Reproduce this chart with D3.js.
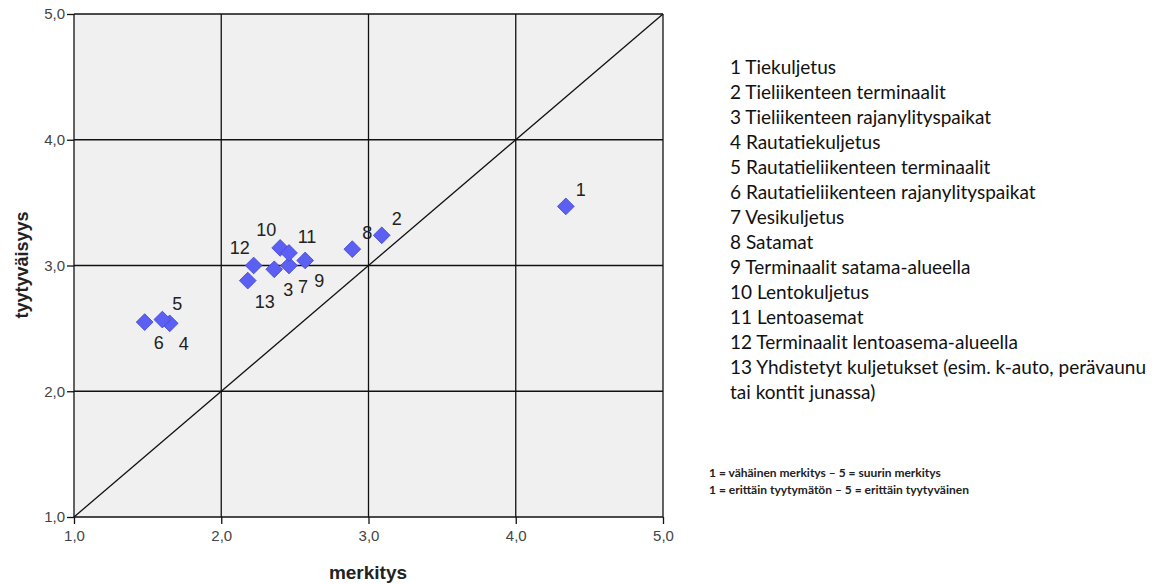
<!DOCTYPE html>
<html lang="fi">
<head>
<meta charset="UTF-8">
<title>merkitys / tyytyväisyys</title>
<script src="https://d3js.org/d3.v7.min.js"></script>
<style>
    body { margin: 0; background: #fff; }
    text { font-family: "Liberation Sans", Arial, sans-serif; }
</style>
</head>
<body>
<script>

// data
const ids = [1, 2, 3, 4, 5, 6, 7, 8, 9, 10, 11, 12, 13];
const merkitys = [4.34, 3.09, 2.36, 1.65, 1.60, 1.48, 2.46, 2.89, 2.57, 2.40, 2.46, 2.22, 2.18];
const tyytyvaisyys = [3.47, 3.24, 2.97, 2.54, 2.57, 2.55, 3.00, 3.13, 3.04, 3.14, 3.10, 3.00, 2.88];
const labelSide = ['ne', 'ne', 'se', 'se', 'ne', 'se', 'se', 'ne', 'se', 'nw', 'ne', 'nw', 'se'];
const tickValues = [1, 2, 3, 4, 5];
const legendLines = [
    '1 Tiekuljetus',
    '2 Tieliikenteen terminaalit',
    '3 Tieliikenteen rajanylityspaikat',
    '4 Rautatiekuljetus',
    '5 Rautatieliikenteen terminaalit',
    '6 Rautatieliikenteen rajanylityspaikat',
    '7 Vesikuljetus',
    '8 Satamat',
    '9 Terminaalit satama-alueella',
    '10 Lentokuljetus',
    '11 Lentoasemat',
    '12 Terminaalit lentoasema-alueella',
    '13 Yhdistetyt kuljetukset (esim. k-auto, perävaunu',
    'tai kontit junassa)'
];
const notes = [
    '1 = vähäinen merkitys – 5 = suurin merkitys',
    '1 = erittäin tyytymätön – 5 = erittäin tyytyväinen'
];

const points = ids.map((id, i) => ({ id, x: merkitys[i], y: tyytyvaisyys[i], side: labelSide[i] }));

const W = 1171, H = 584;
const plot = { left: 74, top: 14, right: 663, bottom: 517 };

const svg = d3.select('body').append('svg')
    .attr('width', W).attr('height', H);

const x = d3.scaleLinear().domain([1, 5]).range([plot.left, plot.right]);
const y = d3.scaleLinear().domain([1, 5]).range([plot.bottom, plot.top]);
const fmt = d => d3.format('.1f')(d).replace('.', ',');

// background
svg.append('rect')
    .attr('x', plot.left).attr('y', plot.top)
    .attr('width', plot.right - plot.left).attr('height', plot.bottom - plot.top)
    .attr('fill', '#f0f0f0');

// grid
svg.append('g').selectAll('line').data(tickValues).join('line')
    .attr('x1', d => x(d)).attr('x2', d => x(d))
    .attr('y1', plot.top).attr('y2', plot.bottom)
    .attr('stroke', '#111').attr('stroke-width', 1.3);
svg.append('g').selectAll('line').data(tickValues).join('line')
    .attr('y1', d => y(d)).attr('y2', d => y(d))
    .attr('x1', plot.left).attr('x2', plot.right)
    .attr('stroke', '#111').attr('stroke-width', 1.3);

// reference line y = x
svg.append('line')
    .attr('x1', x(1)).attr('y1', y(1))
    .attr('x2', x(5)).attr('y2', y(5))
    .attr('stroke', '#111').attr('stroke-width', 1.3);

// axes
const xAxis = svg.append('g')
    .attr('transform', `translate(0,${plot.bottom})`)
    .call(d3.axisBottom(x).tickValues(tickValues).tickFormat(fmt).tickSize(7).tickPadding(6));
const yAxis = svg.append('g')
    .attr('transform', `translate(${plot.left},0)`)
    .call(d3.axisLeft(y).tickValues(tickValues).tickFormat(fmt).tickSize(7).tickPadding(2));
[xAxis, yAxis].forEach(a => {
    a.select('.domain').remove();
    a.selectAll('line').attr('stroke', '#111').attr('stroke-width', 1.3);
    a.selectAll('text').attr('fill', '#444').style('font-size', '15px')
        .style('font-family', '"Liberation Sans", Arial, sans-serif');
});

// axis titles
svg.append('text')
    .attr('x', 368).attr('y', 579)
    .attr('text-anchor', 'middle')
    .style('font-size', '19px').style('font-weight', 'bold').attr('fill', '#222')
    .text('merkitys');
svg.append('text')
    .attr('transform', 'translate(28,265) rotate(-90)')
    .attr('text-anchor', 'middle')
    .style('font-size', '18px').style('font-weight', 'bold').attr('fill', '#222')
    .text('tyytyväisyys');

// points
const off = { ne: [15, -10], nw: [-17, -12], se: [14, 27] };
const pg = svg.append('g').selectAll('g').data(points).join('g')
    .attr('transform', d => `translate(${x(d.x)},${y(d.y)})`);
pg.append('path')
    .attr('d', d3.symbol().type(d3.symbolSquare).size(140))
    .attr('transform', 'rotate(45)')
    .attr('fill', '#5b5ff2')
    .attr('stroke', '#4548d8').attr('stroke-width', 0.8);
pg.append('text')
    .attr('x', d => off[d.side][0] + (d.id >= 10 ? 3 : 0)).attr('y', d => off[d.side][1])
    .attr('text-anchor', 'middle')
    .style('font-size', '18px').attr('fill', '#222')
    .text(d => d.id);

// legend
svg.append('g').selectAll('text').data(legendLines).join('text')
    .attr('x', 730).attr('y', (d, i) => 74 + i * 25)
    .style('font-family', 'Lato, "Open Sans", sans-serif')
    .style('font-size', '19px').attr('fill', '#111')
    .text(d => d);

svg.append('g').selectAll('text').data(notes).join('text')
    .attr('x', 709).attr('y', (d, i) => 477 + i * 17)
    .style('font-family', 'Lato, "Open Sans", sans-serif')
    .style('font-size', '12px').style('font-weight', 'bold').attr('fill', '#222')
    .text(d => d);

</script>
</body>
</html>
